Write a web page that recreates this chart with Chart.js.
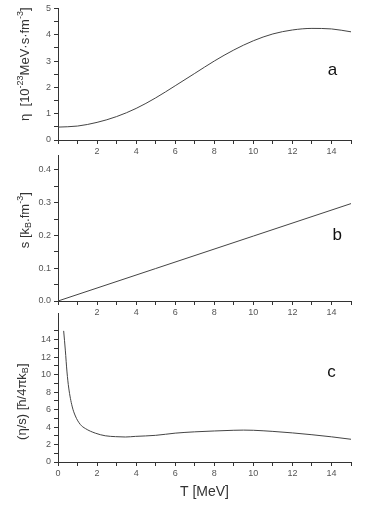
<!DOCTYPE html>
<html lang="en">
<head>
  <meta charset="UTF-8" />
  <title>Shear viscosity, entropy density and eta/s</title>
  <script src="https://cdn.jsdelivr.net/npm/chart.js"></script>
  <style>
    body {
      margin: 0;
      background: #ffffff;
      width: 374px;
      height: 516px;
      position: relative;
      overflow: hidden;
    }
    canvas {
      position: absolute;
      left: 0;
    }
  </style>
</head>
<body>
  <canvas id="chartA" width="374" height="165" style="top:0px"></canvas>
  <canvas id="chartB" width="374" height="179" style="top:147px"></canvas>
  <canvas id="chartC" width="374" height="211" style="top:305px"></canvas>

  <script>
    // panel a: eta(T)
    const tempA = [0, 1, 2, 3, 4, 5, 6, 7, 8, 9, 10, 11, 12, 13, 14, 15];
    const eta = [0.49, 0.53, 0.67, 0.89, 1.2, 1.6, 2.06, 2.53, 3.0, 3.42, 3.77, 4.03, 4.18, 4.24, 4.22, 4.11];

    // panel b: entropy density s(T)
    const tempB = [0, 5, 10, 15];
    const entropy = [0, 0.099, 0.198, 0.297];

    // panel c: eta/s
    const tempC = [0.29, 0.375, 0.46, 0.55, 0.72, 0.89, 1.14, 1.4, 1.91, 2.42, 2.94, 3.45, 3.96, 5, 6, 7, 8, 9, 9.5, 10, 11, 12, 13, 14, 15];
    const etaOverS = [15.0, 12.8, 10.3, 8.46, 6.4, 5.26, 4.3, 3.83, 3.3, 3.0, 2.9, 2.86, 2.93, 3.05, 3.3, 3.45, 3.55, 3.63, 3.65, 3.63, 3.5, 3.33, 3.12, 2.88, 2.6];

    // panel letters [T, value]
    const letterA = [14.05, 2.66];
    const letterB = [14.3, 0.2];
    const letterC = [14.0, 10.3];

    const FONT = "'Liberation Sans', Arial, sans-serif";
    const INK = '#333333';

    function points(xs, ys) {
      return xs.map((x, i) => ({ x: x, y: ys[i] }));
    }

    // rotated y title with super/subscripts
    function drawRich(ctx, segs, cx, cy, size) {
      const small = Math.round(size * 0.68);
      let total = 0;
      segs.forEach(s => {
        ctx.font = (s.m ? small : size) + 'px ' + FONT;
        total += ctx.measureText(s.t).width;
      });
      ctx.save();
      ctx.translate(cx, cy);
      ctx.rotate(-Math.PI / 2);
      ctx.fillStyle = INK;
      ctx.textBaseline = 'middle';
      ctx.textAlign = 'left';
      let x = -total / 2;
      segs.forEach(s => {
        ctx.font = (s.m ? small : size) + 'px ' + FONT;
        let dy = 0;
        if (s.m === 'sup') dy = -size * 0.38;
        if (s.m === 'sub') dy = size * 0.3;
        ctx.fillText(s.t, x, dy);
        x += ctx.measureText(s.t).width;
      });
      ctx.restore();
    }

    const labelPlugin = {
      id: 'panelLabels',
      afterDraw(chart, args, opts) {
        const ctx = chart.ctx;
        const area = chart.chartArea;
        drawRich(ctx, opts.title, opts.titleX, (area.top + area.bottom) / 2 + opts.titleShift, 13);
        ctx.save();
        ctx.fillStyle = '#111';
        ctx.font = '17px ' + FONT;
        ctx.textAlign = 'center';
        ctx.textBaseline = 'middle';
        ctx.fillText(opts.letter, chart.scales.x.getPixelForValue(opts.letterPos[0]),
          chart.scales.y.getPixelForValue(opts.letterPos[1]));
        ctx.restore();
      }
    };

    function makeChart(id, xs, ys, cfg) {
      const ctx = document.getElementById(id).getContext('2d');
      return new Chart(ctx, {
        type: 'line',
        data: {
          datasets: [{
            data: points(xs, ys),
            borderColor: '#444',
            borderWidth: 1,
            pointRadius: 0,
            cubicInterpolationMode: 'monotone',
            fill: false
          }]
        },
        plugins: [labelPlugin],
        options: {
          responsive: false,
          animation: false,
          devicePixelRatio: 1,
          layout: { padding: { top: 8, right: 23, left: 0, bottom: 0 } },
          plugins: {
            legend: { display: false },
            tooltip: { enabled: false },
            panelLabels: cfg.labels
          },
          scales: {
            x: {
              type: 'linear',
              min: 0,
              max: 15,
              afterFit: s => { s.height = cfg.xHeight; },
              border: { color: INK, width: 1 },
              grid: { drawOnChartArea: false, drawTicks: true, tickLength: 4, color: INK },
              title: cfg.xTitle || { display: false },
              ticks: {
                stepSize: 1,
                autoSkip: false,
                maxRotation: 0,
                padding: 2,
                color: '#555',
                font: { family: FONT, size: 9 },
                callback: v => (v % 2 === 0 && (cfg.showZero || v !== 0)) ? String(v) : ''
              }
            },
            y: {
              min: 0,
              max: cfg.yMax,
              afterFit: s => { s.width = 58; },
              afterBuildTicks: s => { s.ticks = s.ticks.filter(t => t.value <= cfg.yTickMax + 1e-9); },
              border: { color: INK, width: 1 },
              grid: { drawOnChartArea: false, drawTicks: true, tickLength: 4, color: INK },
              ticks: {
                stepSize: cfg.yStep,
                autoSkip: false,
                padding: 3,
                color: '#555',
                font: { family: FONT, size: 9 },
                callback: cfg.yLabel
              }
            }
          }
        }
      });
    }

    makeChart('chartA', tempA, eta, {
      xHeight: 25, yMax: 5, yStep: 0.5, yTickMax: 5, showZero: false,
      yLabel: v => Math.abs(v - Math.round(v)) < 1e-6 ? String(Math.round(v)) : '',
      labels: {
        title: [{ t: '\u03b7  [10' }, { t: '-23', m: 'sup' }, { t: 'MeV\u00b7s\u00b7fm' }, { t: '-3', m: 'sup' }, { t: ']' }],
        titleX: 25, titleShift: -10, letter: 'a', letterPos: letterA
      }
    });

    makeChart('chartB', tempB, entropy, {
      xHeight: 25, yMax: 0.444, yStep: 0.05, yTickMax: 0.4, showZero: false,
      yLabel: v => {
        const k = Math.round(v * 10);
        return Math.abs(v * 10 - k) < 1e-6 ? (k / 10).toFixed(1) : '';
      },
      labels: {
        title: [{ t: 's [k' }, { t: 'B', m: 'sub' }, { t: '.fm' }, { t: '-3', m: 'sup' }, { t: ']' }],
        titleX: 25, titleShift: -8, letter: 'b', letterPos: letterB
      }
    });

    makeChart('chartC', tempC, etaOverS, {
      xHeight: 54, yMax: 17, yStep: 1, yTickMax: 15, showZero: true,
      yLabel: v => (v % 2 === 0 && v <= 14) ? String(v) : '',
      xTitle: {
        display: true,
        text: 'T [MeV]',
        color: INK,
        font: { family: FONT, size: 14 },
        padding: { top: 0, bottom: 15 }
      },
      labels: {
        title: [{ t: '(\u03b7/s) [\u0127/4\u03c0k' }, { t: 'B', m: 'sub' }, { t: ']' }],
        titleX: 22, titleShift: 14, letter: 'c', letterPos: letterC
      }
    });
  </script>
</body>
</html>
